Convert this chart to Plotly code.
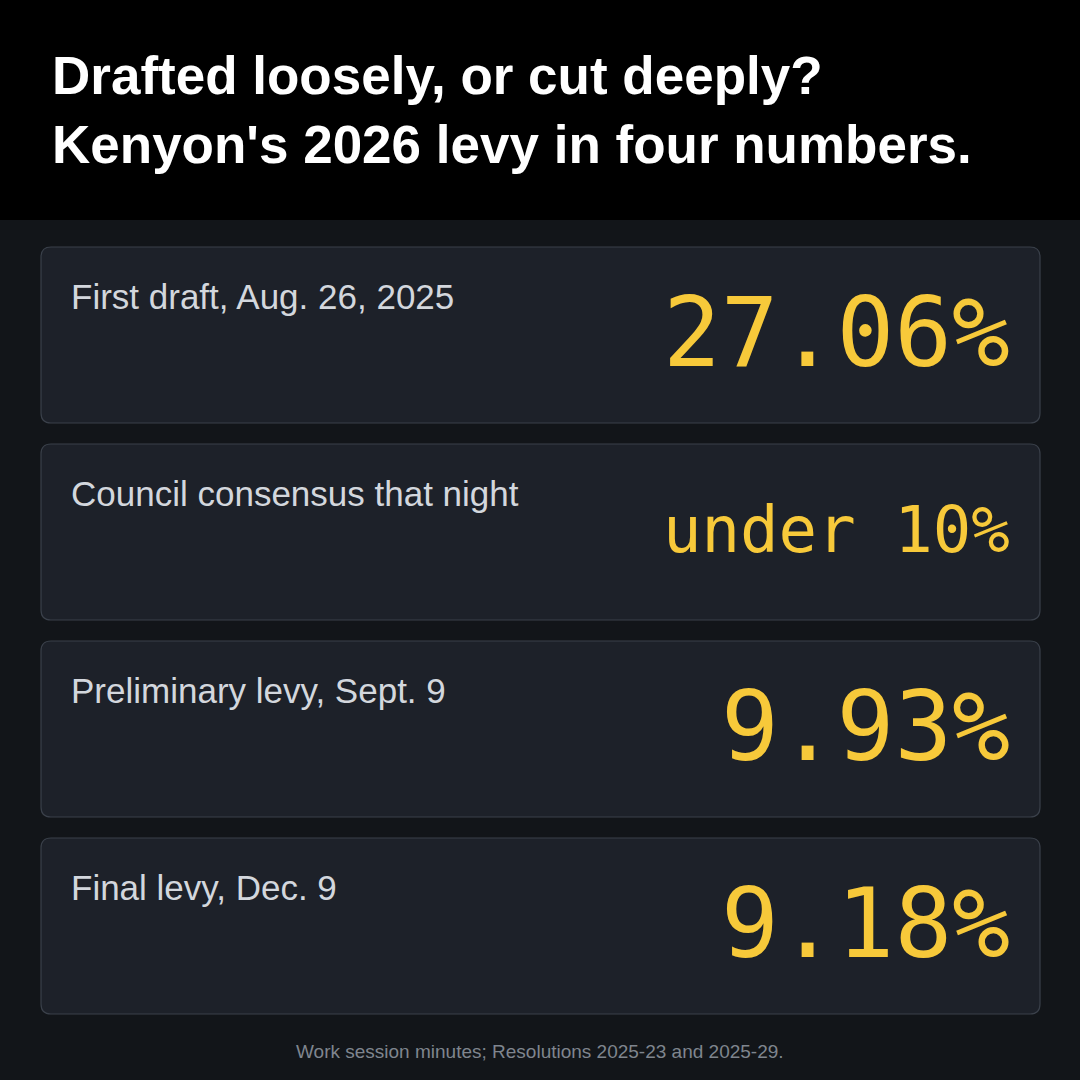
import plotly.graph_objects as go

labels = ["First draft, Aug. 26, 2025", "Council consensus that night", "Preliminary levy, Sept. 9", "Final levy, Dec. 9"]
values = ["27.06%", "under 10%", "9.93%", "9.18%"]
value_sizes = [96, 64, 96, 96]
title = "Drafted loosely, or cut deeply?<br>Kenyon's 2026 levy in four numbers."
source = "Work session minutes; Resolutions 2025-23 and 2025-29."

W = H = 1080
def py(p): return 1 - p / H
def px(p): return p / W

fig = go.Figure()
shapes = [dict(type="rect", xref="paper", yref="paper", x0=0, x1=1, y0=py(220), y1=1,
               fillcolor="#000000", line=dict(width=0), layer="below")]
ann = [dict(text="<b>" + title + "</b>", x=px(50), y=py(44), xref="paper", yref="paper",
            xanchor="left", yanchor="top", showarrow=False, align="left",
            font=dict(family="Liberation Sans, Arial", size=53, color="#ffffff"))]

def rrect(x0, y0, x1, y1, r):
    return (f"M {x0+r},{y0} L {x1-r},{y0} Q {x1},{y0} {x1},{y0+r} L {x1},{y1-r} Q {x1},{y1} {x1-r},{y1} "
            f"L {x0+r},{y1} Q {x0},{y1} {x0},{y1-r} L {x0},{y0+r} Q {x0},{y0} {x0+r},{y0} Z")

for i, (lab, val, vs) in enumerate(zip(labels, values, value_sizes)):
    top = 247 + i * 197
    bot = top + 176
    shapes.append(dict(type="path", xref="x", yref="y", path=rrect(41, top, 1040, bot, 10),
                       fillcolor="#1d2129", line=dict(color="#3a404a", width=1.2)))
    ann.append(dict(text=lab, x=px(69), y=py(top + 28), xref="paper", yref="paper",
                    xanchor="left", yanchor="top", showarrow=False,
                    font=dict(family="Liberation Sans, Arial", size=35, color="#d3d7dd")))
    ann.append(dict(text=val, x=px(1012), y=py(top + 86), xref="paper", yref="paper",
                    xanchor="right", yanchor="middle", showarrow=False,
                    font=dict(family="DejaVu Sans Mono", size=vs, color="#f7c93a")))

ann.append(dict(text=source, x=0.5, y=py(1051), xref="paper", yref="paper",
                xanchor="center", yanchor="middle", showarrow=False,
                font=dict(family="Liberation Sans, Arial", size=19, color="#7f858e")))

fig.update_layout(width=W, height=H, margin=dict(l=0, r=0, t=0, b=0),
                  paper_bgcolor="#121519", plot_bgcolor="rgba(0,0,0,0)",
                  xaxis=dict(range=[0, W], visible=False, fixedrange=True),
                  yaxis=dict(range=[H, 0], visible=False, fixedrange=True),
                  shapes=shapes, annotations=ann, showlegend=False)
fig.write_html("out.html", config={"displayModeBar": False},
               post_script="document.body.style.margin='0';document.body.style.background='#121519';")
